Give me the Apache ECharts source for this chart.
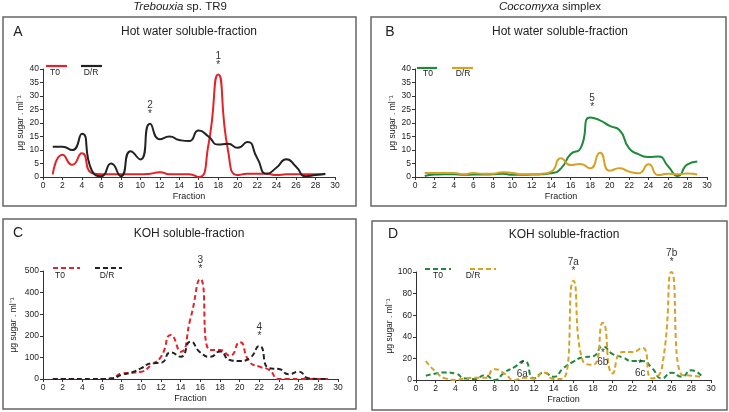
<!DOCTYPE html>
<html>
<head>
<meta charset="utf-8">
<script src="https://cdn.jsdelivr.net/npm/echarts@6/dist/echarts.min.js"></script>
<style>
  html, body { margin: 0; padding: 0; background: #fff; }
  #chart { width: 729px; height: 412px; }
</style>
</head>
<body>
<div id="chart"></div>
<script>
// fractions collected
var fractions = [1, 2, 3, 4, 5, 6, 7, 8, 9, 10, 11, 12, 13, 14, 15, 16, 17, 18, 19, 20, 21, 22, 23, 24, 25, 26, 27, 28, 29];

// A: Trebouxia, hot water
var aT0 = [1, 8.2, 4.5, 8.8, 1.5, 1, 1, 1, 1, 1, 1.2, 1.8, 1, 1, 1, 0, 12, 38, 10, 0.7, 1.2, 1.2, 1.2, 0.7, 1, 1, 1, 1, 1];
var aDR = [11.2, 11.2, 10, 16, 2.5, 0.3, 5, 0.3, 9.5, 6.5, 19.7, 14, 15, 13.7, 13.3, 17.2, 15, 12, 12.3, 10.8, 13, 7, 1.2, 3.5, 6.6, 3.8, 0.3, 0.7, 1.2];
// B: Coccomyxa, hot water
var bT0 = [0.4, 0.9, 1, 1, 0.8, 0.9, 0.9, 1, 1.2, 0.8, 0.8, 0.9, 1, 1.4, 3.2, 8.5, 10.6, 22, 21, 18.9, 17.4, 10.6, 8.4, 7.4, 7.6, 4, 0.4, 4.7, 5.7];
var bDR = [1.5, 1.5, 1.5, 1.5, 1, 1.5, 1.2, 1.2, 1.8, 1.5, 1, 1, 1.2, 2, 6.9, 4.4, 4.8, 3.2, 9, 2.3, 3.2, 2, 1.4, 4.7, 0.7, 1.2, 1, 1.3, 0.9];
// C: Trebouxia, KOH
var cT0 = [0, 0, 0, 0, 0, 0, 3, 26, 29, 34, 65, 103, 204, 126, 280, 463, 134, 134, 108, 170, 80, 57, 42, 0, 0, 0, 0, 0, 0];
var cDR = [0, 0, 0, 0, 0, 0, 2, 20, 30, 50, 72, 75, 123, 103, 173, 123, 103, 127, 88, 83, 96, 153, 50, 46, 22, 34, 3, 0, 0];
// D: Coccomyxa, KOH
var dT0 = [4, 6, 7, 6, 1.5, 1, 4.5, 0, 7, 12, 17.6, 1.5, 6.8, 3, 11, 17, 21, 22, 31, 24, 21, 17.6, 17.6, 11, 1.5, 6.8, 3, 9, 4];
var dDR = [17.6, 7.7, 1.5, 0, 1.5, 2, 2, 10, 6, 0, 2, 1.5, 7, 1, 1.5, 92, 17, 14, 53, 6, 26, 26, 30, 1.5, 11, 100, 5, 4, 3];

// peak labels: [fraction, value, text]
var peaksA = [[18, 38, "1"], [11, 19.7, "2"]];
var peaksB = [[18.2, 22.2, "5"]];
var peaksC = [[16, 463, "3"], [22, 153, "4"]];
var peaksD = [[16, 92, "7a"], [26, 100, "7b"]];
var peaksDBelow = [[10.8, 15.4, "6a"], [19, 26, "6b"], [22.8, 16, "6c"]];

var yMaxes = [40, 40, 500, 100];
var yStep = [5, 5, 100, 20];

var FONT = "Liberation Sans, Arial, sans-serif";
var RED = "#e3232a", BLACK = "#222222", GREEN = "#1f8a3b", GOLD = "#d6a224";

function pairs(vals) {
  return vals.map(function (v, i) { return [fractions[i], v]; });
}

function marksTop(list) {
  return {
    symbol: "circle", symbolSize: 0, silent: true, animation: false,
    data: list.map(function (p) {
      return {
        coord: [p[0], p[1]],
        label: {
          show: true, formatter: p[2] + "\n*", position: "top", distance: 5,
          fontSize: 10, lineHeight: 9, color: "#333", fontFamily: FONT
        }
      };
    })
  };
}

function marksBelow(list) {
  return {
    symbol: "circle", symbolSize: 0, silent: true, animation: false,
    data: list.map(function (p) {
      return {
        coord: [p[0], p[1]],
        label: {
          show: true, formatter: "*\n" + p[2], position: "bottom", distance: -3,
          fontSize: 10, lineHeight: 9, color: "#333", fontFamily: FONT
        }
      };
    })
  };
}

function lineSeries(idx, name, vals, color, dashed, mark) {
  var s = {
    name: name, type: "line", xAxisIndex: idx, yAxisIndex: idx,
    data: pairs(vals), smooth: 0.6, showSymbol: false, symbol: "none",
    lineStyle: { color: color, width: 2, type: dashed ? [5, 3] : "solid" },
    itemStyle: { color: color },
    z: 3, animation: false
  };
  if (mark) s.markPoint = mark;
  return s;
}

var grids = [
  { left: 43, right: 394, top: 69, bottom: 235 },
  { left: 415, right: 22, top: 69, bottom: 235 },
  { left: 43, right: 391, top: 271, bottom: 33 },
  { left: 416, right: 18, top: 272, bottom: 32 }
];
var nameGaps = [18, 18, 25, 19];

var xAxes = grids.map(function (g, i) {
  return {
    type: "value", gridIndex: i, min: 0, max: 30, interval: 2,
    name: "Fraction", nameLocation: "middle", nameGap: 15,
    nameTextStyle: { fontSize: 9, color: "#222", fontFamily: FONT },
    axisLine: { lineStyle: { color: "#333", width: 1 } },
    axisTick: { show: true, length: 3, lineStyle: { color: "#333" } },
    axisLabel: { fontSize: 8.5, color: "#222", margin: 4, fontFamily: FONT },
    splitLine: { show: false }
  };
});

var yAxes = grids.map(function (g, i) {
  return {
    type: "value", gridIndex: i, min: 0, max: yMaxes[i], interval: yStep[i],
    name: "\u03bcg sugar . ml\u207b\u00b9", nameLocation: "middle", nameRotate: 90,
    nameGap: nameGaps[i],
    nameTextStyle: { fontSize: 8.5, color: "#222", fontFamily: FONT },
    axisLine: { show: true, lineStyle: { color: "#333", width: 1 } },
    axisTick: { show: true, length: 3, lineStyle: { color: "#333" } },
    axisLabel: { fontSize: 8.5, color: "#222", margin: 4, fontFamily: FONT },
    splitLine: { show: false }
  };
});

function txt(x, y, text, size, extra) {
  var style = { text: text, x: 0, y: 0, align: "center", verticalAlign: "middle",
    fontSize: size, fontFamily: FONT, fill: "#222" };
  if (extra) for (var k in extra) style[k] = extra[k];
  return { type: "text", x: x, y: y, style: style, silent: true };
}
function box(x, y, w, h) {
  return { type: "rect", shape: { x: x, y: y, width: w, height: h },
    style: { fill: null, stroke: "#666", lineWidth: 1.5 }, silent: true };
}
function legLine(x1, x2, y, color, dashed) {
  return { type: "line", shape: { x1: x1, y1: y, x2: x2, y2: y },
    style: { stroke: color, lineWidth: 2.2, lineDash: dashed ? [5, 3] : null }, silent: true };
}

var italic = { rich: { i: { fontStyle: "italic", fontSize: 11.5, fontFamily: FONT, fill: "#222" } } };

var graphics = [
  box(3, 17, 353, 189), box(371, 17, 355, 189), box(3, 219, 353, 190), box(372, 221, 355, 189),
  txt(180, 7, "{i|Trebouxia} sp. TR9", 11.5, italic),
  txt(550, 7, "{i|Coccomyxa} simplex", 11.5, italic),
  txt(18, 32, "A", 14), txt(390, 32, "B", 14), txt(18, 233, "C", 14), txt(393, 234, "D", 14),
  txt(189, 32, "Hot water soluble-fraction", 12),
  txt(560, 32, "Hot water soluble-fraction", 12),
  txt(189, 234, "KOH soluble-fraction", 12),
  txt(564, 235, "KOH soluble-fraction", 12),
  legLine(46, 67, 66, RED, false), txt(55, 73, "T0", 8.5),
  legLine(81, 102, 66, BLACK, false), txt(91, 73, "D/R", 8.5),
  legLine(417, 437, 68, GREEN, false), txt(428, 74, "T0", 8.5),
  legLine(452, 473, 68, GOLD, false), txt(463, 74, "D/R", 8.5),
  legLine(53, 80, 268, RED, true), txt(60, 276, "T0", 8.5),
  legLine(95, 122, 268, BLACK, true), txt(107, 276, "D/R", 8.5),
  legLine(425, 451, 269, GREEN, true), txt(438, 276, "T0", 8.5),
  legLine(470, 496, 269, GOLD, true), txt(473, 276, "D/R", 8.5)
];

var chart = echarts.init(document.getElementById("chart"), null, { renderer: "canvas" });
chart.setOption({
  animation: false,
  backgroundColor: "#fff",
  textStyle: { fontFamily: FONT },
  grid: grids,
  xAxis: xAxes,
  yAxis: yAxes,
  graphic: graphics,
  series: [
    lineSeries(0, "T0", aT0, RED, false, marksTop(peaksA)),
    lineSeries(0, "D/R", aDR, BLACK, false),
    lineSeries(1, "T0", bT0, GREEN, false, marksTop(peaksB)),
    lineSeries(1, "D/R", bDR, GOLD, false),
    lineSeries(2, "T0", cT0, RED, true, marksTop(peaksC)),
    lineSeries(2, "D/R", cDR, BLACK, true),
    lineSeries(3, "T0", dT0, GREEN, true, marksBelow(peaksDBelow)),
    lineSeries(3, "D/R", dDR, GOLD, true, marksTop(peaksD))
  ]
});
</script>
</body>
</html>
